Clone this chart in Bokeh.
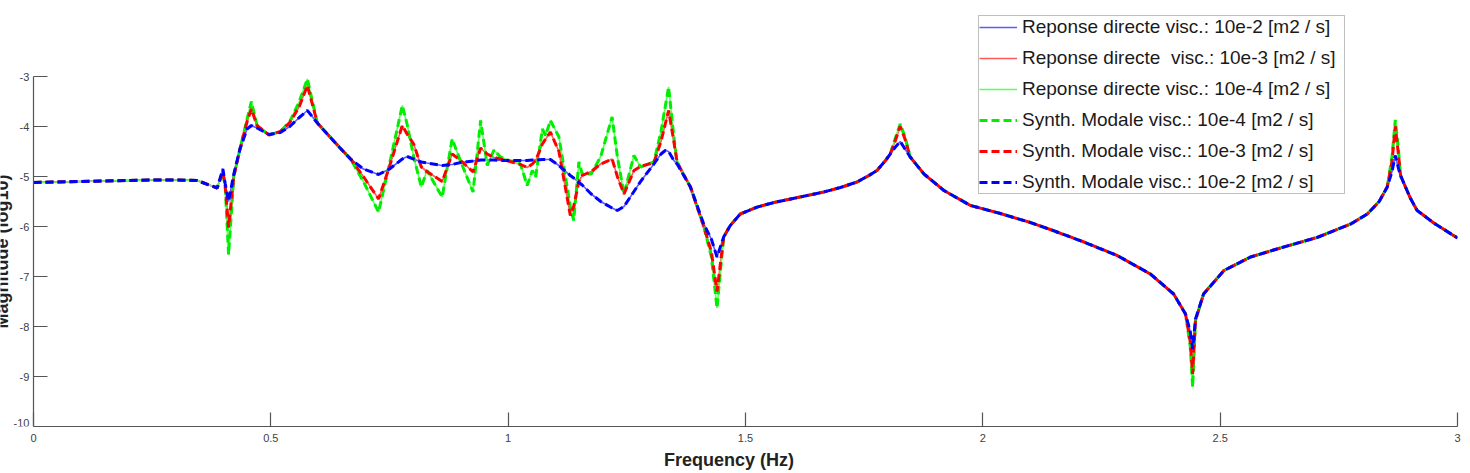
from math import pi
from bokeh.plotting import figure
from bokeh.models import Legend, LegendItem, FixedTicker, Label, LinearAxis
from bokeh.embed import file_html
from bokeh.resources import INLINE

# Frequency (Hz)
freq = [0.000, 0.050, 0.100, 0.150, 0.200, 0.250, 0.300, 0.345, 0.387, 0.399,
        0.404, 0.411, 0.422, 0.435, 0.450, 0.459, 0.471, 0.496, 0.520, 0.540,
        0.560, 0.577, 0.598, 0.619, 0.645, 0.668, 0.695, 0.727, 0.750, 0.777,
        0.787, 0.801, 0.817, 0.829, 0.861, 0.882, 0.900, 0.926, 0.942, 0.956,
        0.970, 0.984, 1.012, 1.026, 1.040, 1.051, 1.058, 1.072, 1.079, 1.089,
        1.107, 1.131, 1.138, 1.149, 1.156, 1.175, 1.195, 1.219, 1.230, 1.244,
        1.265, 1.279, 1.307, 1.322, 1.331, 1.338, 1.349, 1.356, 1.384, 1.412,
        1.428, 1.440, 1.454, 1.468, 1.489, 1.525, 1.560, 1.595, 1.630, 1.665,
        1.700, 1.735, 1.760, 1.777, 1.795, 1.805, 1.815, 1.826, 1.836, 1.847,
        1.876, 1.918, 1.974, 2.037, 2.100, 2.142, 2.213, 2.283, 2.353, 2.402,
        2.427, 2.437, 2.442, 2.448, 2.465, 2.508, 2.564, 2.634, 2.704, 2.775,
        2.810, 2.835, 2.852, 2.862, 2.869, 2.876, 2.880, 2.900, 2.915, 2.950,
        3.000]

# Magnitude (log10), viscosity 10e-2 [m2/s]
mag_visc_1e2 = [-5.12, -5.11, -5.10, -5.09, -5.08, -5.07, -5.07, -5.08, -5.23, -4.85,
                -5.15, -5.50, -4.95, -4.45, -4.05, -3.98, -4.03, -4.16, -4.12, -4.00,
                -3.82, -3.68, -3.93, -4.15, -4.42, -4.65, -4.85, -4.96, -4.85, -4.65,
                -4.60, -4.65, -4.71, -4.73, -4.78, -4.76, -4.72, -4.69, -4.67, -4.67,
                -4.67, -4.68, -4.68, -4.68, -4.68, -4.67, -4.67, -4.66, -4.66, -4.66,
                -4.78, -4.98, -5.03, -5.12, -5.17, -5.35, -5.50, -5.63, -5.68, -5.60,
                -5.30, -5.10, -4.75, -4.55, -4.48, -4.50, -4.68, -4.75, -5.21, -5.95,
                -6.25, -6.61, -6.21, -5.98, -5.75, -5.61, -5.52, -5.45, -5.38, -5.31,
                -5.22, -5.11, -4.98, -4.88, -4.68, -4.55, -4.42, -4.30, -4.45, -4.61,
                -4.95, -5.28, -5.58, -5.74, -5.92, -6.06, -6.31, -6.58, -6.95, -7.35,
                -7.75, -8.10, -8.45, -7.85, -7.35, -6.88, -6.61, -6.41, -6.22, -5.95,
                -5.75, -5.50, -5.21, -4.90, -4.58, -4.85, -4.98, -5.42, -5.68, -5.93,
                -6.23]

# Magnitude (log10), viscosity 10e-3 [m2/s]
mag_visc_1e3 = [-5.12, -5.11, -5.10, -5.09, -5.08, -5.07, -5.07, -5.08, -5.23, -4.90,
                -5.20, -6.02, -5.00, -4.45, -3.90, -3.65, -3.98, -4.17, -4.10, -3.92,
                -3.60, -3.18, -3.93, -4.15, -4.42, -4.65, -5.00, -5.45, -4.80, -3.98,
                -4.15, -4.35, -4.81, -4.90, -5.10, -4.55, -4.68, -4.91, -4.43, -4.55,
                -4.62, -4.65, -4.72, -4.76, -4.82, -4.75, -4.68, -4.35, -4.25, -4.11,
                -4.50, -5.78, -5.60, -5.10, -4.98, -4.90, -4.75, -4.65, -5.00, -5.35,
                -4.88, -4.80, -4.72, -4.30, -3.95, -3.68, -4.30, -4.72, -5.21, -6.00,
                -6.50, -7.30, -6.21, -5.98, -5.75, -5.61, -5.52, -5.45, -5.38, -5.31,
                -5.22, -5.11, -4.98, -4.88, -4.68, -4.55, -4.30, -4.00, -4.25, -4.61,
                -4.95, -5.28, -5.58, -5.74, -5.92, -6.06, -6.31, -6.58, -6.95, -7.35,
                -7.75, -8.30, -8.95, -7.88, -7.35, -6.88, -6.61, -6.41, -6.22, -5.95,
                -5.75, -5.50, -5.21, -4.70, -4.00, -4.60, -4.98, -5.42, -5.68, -5.93,
                -6.23]

# Magnitude (log10), viscosity 10e-4 [m2/s]
mag_visc_1e4 = [-5.12, -5.11, -5.10, -5.09, -5.08, -5.07, -5.07, -5.08, -5.23, -4.92,
                -5.22, -6.56, -5.00, -4.45, -3.85, -3.50, -3.98, -4.17, -4.10, -3.90,
                -3.50, -3.05, -3.93, -4.15, -4.42, -4.65, -5.10, -5.71, -4.75, -3.58,
                -3.95, -4.60, -5.21, -4.88, -5.41, -4.25, -4.70, -5.31, -3.88, -4.78,
                -4.47, -4.61, -4.72, -4.75, -5.18, -4.88, -5.01, -4.05, -4.18, -3.88,
                -4.21, -5.60, -5.88, -4.71, -4.95, -4.95, -4.60, -3.81, -4.60, -5.35,
                -4.58, -4.81, -4.71, -4.10, -3.60, -3.21, -4.20, -4.72, -5.21, -6.00,
                -6.60, -7.63, -6.21, -5.98, -5.75, -5.61, -5.52, -5.45, -5.38, -5.31,
                -5.22, -5.11, -4.98, -4.88, -4.68, -4.55, -4.25, -3.95, -4.20, -4.61,
                -4.95, -5.28, -5.58, -5.74, -5.92, -6.06, -6.31, -6.58, -6.95, -7.35,
                -7.75, -8.40, -9.21, -7.88, -7.35, -6.88, -6.61, -6.41, -6.22, -5.95,
                -5.75, -5.50, -5.21, -4.60, -3.87, -4.50, -4.98, -5.42, -5.68, -5.93,
                -6.23]

x_ticks = [0, 0.5, 1, 1.5, 2, 2.5, 3]
x_tick_labels = ["0", "0.5", "1", "1.5", "2", "2.5", "3"]
y_ticks = [-10, -9, -8, -7, -6, -5, -4, -3]
y_tick_labels = ["-10", "-9", "-8", "-7", "-6", "-5", "-4", "-3"]

legend_labels = [
    "Reponse directe visc.: 10e-2 [m2 / s]",
    "Reponse directe  visc.: 10e-3 [m2 / s]",
    "Reponse directe visc.: 10e-4 [m2 / s]",
    "Synth. Modale visc.: 10e-4 [m2 / s]",
    "Synth. Modale visc.: 10e-3 [m2 / s]",
    "Synth. Modale visc.: 10e-2 [m2 / s]",
]

FONT = "Liberation Sans"

# Frame spans the canvas from the left and top edges; the data window
# 0..3 x -10..-3 sits where the reference axes are.
p = figure(width=1470, height=473, x_range=(-0.0695, 3), y_range=(-10, -1.48),
           y_axis_location="right",
           output_backend="svg", toolbar_location=None,
           min_border_left=0, min_border_right=13, min_border_top=0, min_border_bottom=47)
p.outline_line_color = None
p.background_fill_color = "white"
p.border_fill_color = "white"
p.xgrid.visible = False
p.ygrid.visible = False

axis_col = "#555555"


def style_axis(ax):
    ax.axis_line_color = axis_col
    ax.axis_line_width = 1.2
    ax.major_tick_line_color = axis_col
    ax.major_tick_line_width = 1.2
    ax.minor_tick_line_color = None
    ax.minor_tick_in = 0
    ax.minor_tick_out = 0
    ax.major_label_text_font = FONT
    ax.major_label_text_font_size = "11px"
    ax.major_label_text_color = "#404040"


xa = p.xaxis[0]
style_axis(xa)
xa.ticker = FixedTicker(ticks=x_ticks)
xa.major_label_overrides = {t: l for t, l in zip(x_ticks, x_tick_labels)}
xa.major_tick_in = 14
xa.major_tick_out = 0
xa.major_label_standoff = 7
xa.axis_label = "Frequency (Hz)"
xa.axis_label_text_font = FONT
xa.axis_label_text_font_size = "18px"
xa.axis_label_text_font_style = "bold"
xa.axis_label_text_color = "#222222"
xa.axis_label_standoff = 5
xa.bounds = (0, 3)

# y axis drawn at x = 0, ticks pointing into the plot, labels to its left
ya = p.yaxis[0]
style_axis(ya)
ya.fixed_location = 0
ya.ticker = FixedTicker(ticks=y_ticks[1:])
ya.major_label_overrides = {t: l for t, l in zip(y_ticks[1:], y_tick_labels[1:])}
ya.bounds = (-10, -3)
ya.major_tick_in = 0
ya.major_tick_out = 14
ya.major_label_standoff = -28

# the wider bottom label needs its own offset; nudged up so the corner does not clip it
corner_tick = y_ticks[0] + 0.08
yb = LinearAxis(fixed_location=0, ticker=FixedTicker(ticks=[corner_tick]), bounds=(-10, -3))
style_axis(yb)
yb.major_label_overrides = {corner_tick: y_tick_labels[0]}
yb.axis_line_color = None
yb.major_tick_line_color = None
yb.major_tick_in = 0
yb.major_tick_out = 14
yb.major_label_standoff = -34
p.add_layout(yb, "right")

# direct responses (thin solid)
r1 = p.line(freq, mag_visc_1e2, line_color="#5a5aff", line_width=1.6)
r2 = p.line(freq, mag_visc_1e3, line_color="#ff5a5a", line_width=1.6)
r3 = p.line(freq, mag_visc_1e4, line_color="#5aff5a", line_width=1.6)
# modal synthesis (thick dashed)
r4 = p.line(freq, mag_visc_1e4, line_color="#00ee00", line_width=3, line_dash="8 4")
r5 = p.line(freq, mag_visc_1e3, line_color="#ff0000", line_width=3, line_dash="8 4")
r6 = p.line(freq, mag_visc_1e2, line_color="#0000ff", line_width=3, line_dash="8 4")

legend = Legend(items=[LegendItem(label=lab, renderers=[r])
                       for lab, r in zip(legend_labels, [r1, r2, r3, r4, r5, r6])],
                location=(978, 232))
legend.label_text_font = FONT
legend.label_text_font_size = "19px"
legend.label_text_color = "#1a1a1a"
legend.glyph_width = 38
legend.glyph_height = 22
legend.label_height = 22
legend.label_width = 322
legend.label_standoff = 5
legend.spacing = 9
legend.padding = 0
legend.margin = 0
legend.border_line_color = "#808080"
legend.border_line_width = 1.2
legend.background_fill_color = "white"
legend.background_fill_alpha = 1
p.add_layout(legend, "center")

# y-axis title, partly beyond the left edge as in the reference
ylab = Label(x=-0.066, y=-6.5, text="Magnitude (log10)", angle=pi / 2,
             text_align="center", text_baseline="alphabetic",
             text_font=FONT, text_font_size="18px", text_font_style="bold",
             text_color="#222222")
p.add_layout(ylab)

open("out.html", "w").write(file_html(p, INLINE))
